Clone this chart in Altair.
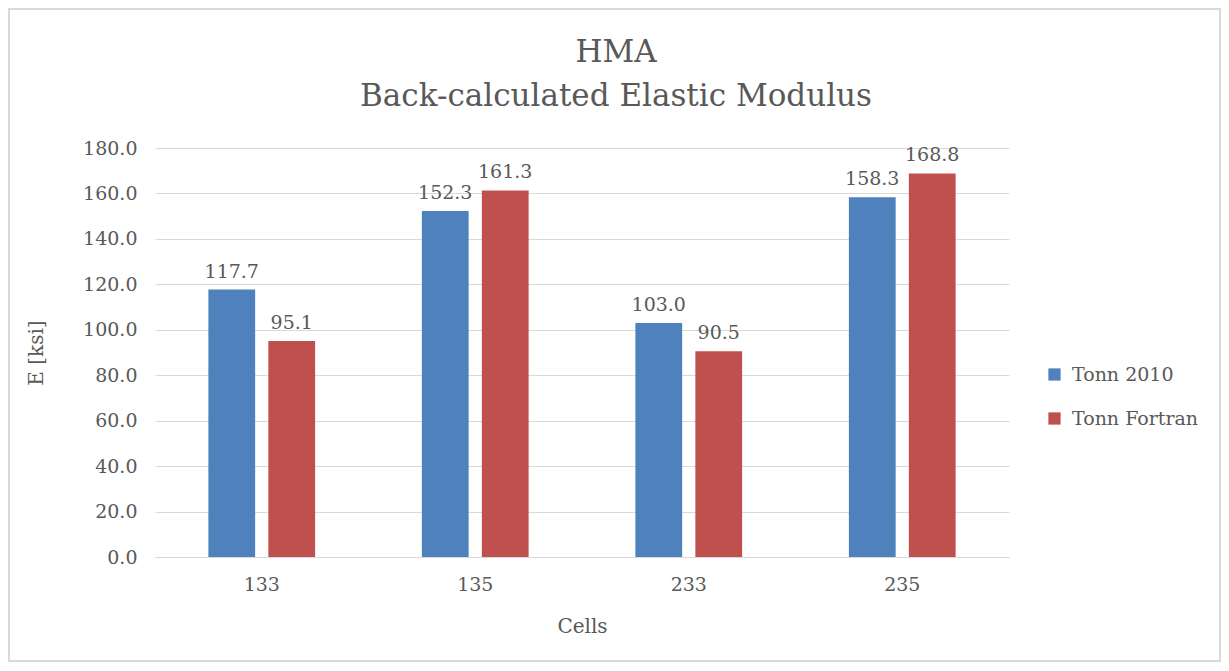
import altair as alt
import pandas as pd

cells = ["133", "135", "233", "235"]
tonn_2010 = [117.7, 152.3, 103.0, 158.3]
tonn_fortran = [95.1, 161.3, 90.5, 168.8]
series = ["Tonn 2010", "Tonn Fortran"]
colors = ["#4F81BD", "#C0504D"]
y_ticks = [0, 20, 40, 60, 80, 100, 120, 140, 160, 180]
title_lines = ["HMA", "Back-calculated Elastic Modulus"]

rows = []
for i, c in enumerate(cells):
    rows.append({"Cells": c, "Series": series[0], "E": tonn_2010[i]})
    rows.append({"Cells": c, "Series": series[1], "E": tonn_fortran[i]})
df = pd.DataFrame(rows)

FONT = "DejaVu Serif"
TXT = "#595959"

base = alt.Chart(df).encode(
    x=alt.X("Cells:N", sort=cells,
            scale=alt.Scale(paddingInner=0.5, paddingOuter=0.25),
            axis=alt.Axis(title="Cells", labelAngle=0, ticks=False, domainColor="#d9d9d9",
                          labelPadding=18, titlePadding=22)),
    xOffset=alt.XOffset("Series:N", sort=series,
                        scale=alt.Scale(paddingInner=0.22, paddingOuter=0)),
    y=alt.Y("E:Q", scale=alt.Scale(domain=[0, 180]),
            axis=alt.Axis(title="E [ksi]", values=y_ticks, format=".1f", ticks=False,
                          domain=False, gridColor="#d9d9d9", labelPadding=18, titlePadding=36)),
)

bars = base.mark_bar().encode(
    color=alt.Color("Series:N", sort=series,
                    scale=alt.Scale(domain=series, range=colors),
                    legend=alt.Legend(title=None, orient="none", legendX=890, legendY=217,
                                      symbolType="square", symbolSize=150, rowPadding=24,
                                      labelFontSize=19, labelFont=FONT, labelColor=TXT,
                                      symbolStrokeWidth=0, labelOffset=8))
)

labels = base.mark_text(baseline="bottom", dy=-8, font=FONT, fontSize=19, color=TXT).encode(
    text=alt.Text("E:Q", format=".1f")
)

one = pd.DataFrame({"a": [0]})
border = alt.Chart(one).mark_rect(
    fill=None, stroke="#d9d9d9", strokeWidth=2, clip=False
).encode(
    x=alt.value(-146), x2=alt.value(1065), y=alt.value(-139), y2=alt.value(513)
)

title1 = alt.Chart(one).mark_text(
    text=title_lines[0], font=FONT, fontSize=31, color=TXT, align="center", baseline="alphabetic"
).encode(x=alt.value(461), y=alt.value(-86))
title2 = alt.Chart(one).mark_text(
    text=title_lines[1], font=FONT, fontSize=31, color=TXT, align="center", baseline="alphabetic"
).encode(x=alt.value(461), y=alt.value(-42))

chart = alt.layer(border, bars, labels, title1, title2).properties(
    width=854, height=409,
    autosize=alt.AutoSizeParams(type="none"),
    padding={"left": 147, "top": 140, "right": 212, "bottom": 106},
).configure_view(stroke=None).configure_axis(
    labelFont=FONT, titleFont=FONT, labelFontSize=19, titleFontSize=20,
    labelColor=TXT, titleColor=TXT, titleFontWeight="normal"
)

chart.save("out.html", embed_options={"renderer": "svg", "actions": False})
